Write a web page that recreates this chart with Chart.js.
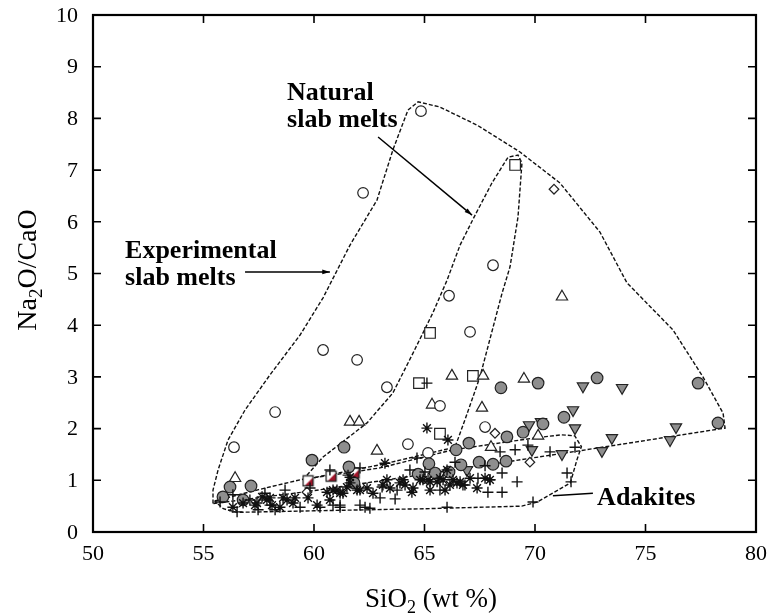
<!DOCTYPE html>
<html>
<head>
<meta charset="utf-8">
<script src="https://cdn.jsdelivr.net/npm/chart.js@4.4.1/dist/chart.umd.min.js"></script>
<style>
  html, body { margin: 0; padding: 0; background: #fff; }
  canvas { display: block; }
</style>
</head>
<body>
<canvas id="chart" width="772" height="614"></canvas>
<script>
// Axis ticks
const xTicks = [50, 55, 60, 65, 70, 75, 80];
const yTicks = [0, 1, 2, 3, 4, 5, 6, 7, 8, 9, 10];

// Samples: [SiO2 wt %, Na2O/CaO]
const openCircles = [[64.84,8.14],[62.22,6.56],[60.41,3.52],[61.95,3.33],[63.30,2.80],[58.24,2.32],[56.38,1.64],
  [66.11,4.57],[68.10,5.16],[67.06,3.87],[65.70,2.44],[64.25,1.70],[65.16,1.53],[67.74,2.03]];
const grayCircles = [[68.46,2.79],[70.14,2.88],[72.81,2.98],[77.38,2.88],[78.28,2.11],[71.31,2.22],[70.36,2.09],
  [69.46,1.93],[68.73,1.84],[67.01,1.72],[66.65,1.30],[66.11,1.16],[67.47,1.35],[68.10,1.31],[68.69,1.37],
  [66.43,1.59],[65.20,1.32],[64.71,1.12],[65.48,1.14],[61.36,1.64],[59.91,1.39],[61.58,1.26],[61.81,0.95],
  [56.20,0.87],[57.15,0.89],[55.88,0.68],[56.79,0.62]];
const openTriangles = [[71.22,4.55],[66.24,3.02],[67.65,3.02],[69.50,2.96],[67.60,2.40],[68.01,1.64],[70.14,1.86],
  [65.34,2.46],[61.63,2.13],[62.04,2.13],[62.85,1.57],[56.43,1.04]];
const grayDownTriangles = [[72.17,2.82],[73.94,2.79],[71.72,2.36],[71.81,2.01],[69.73,2.07],[70.27,2.13],[73.48,1.82],
  [76.38,2.03],[76.11,1.78],[73.03,1.57],[71.22,1.51],[69.86,1.59],[66.92,1.20]];
const openSquares = [[69.10,7.10],[65.25,3.85],[64.75,2.88],[67.19,3.02],[65.70,1.90]];
const halfRedSquares = [[59.73,0.99],[60.77,1.08],[61.81,1.14]];
const openDiamonds = [[70.86,6.63],[68.19,1.91],[69.77,1.35],[59.68,0.77]];
const asterisks = [[56.33,0.48],[57.33,0.52],[58.01,0.66],[58.60,0.66],[59.14,0.66],[58.46,0.48],[57.65,0.68],
  [56.79,0.56],[61.04,0.81],[61.49,0.87],[62.08,0.81],[62.40,0.85],[62.67,0.75],[63.44,0.85],[64.12,0.91],
  [64.43,0.77],[64.80,1.01],[65.25,0.97],[65.70,1.04],[66.02,1.20],[66.06,1.78],[65.11,2.01],[63.21,1.33],
  [66.29,1.01],[66.61,0.97],[67.06,1.04],[61.63,1.06],[60.14,0.52],[60.72,0.62],[59.73,0.66],
  [63.12,0.91],[63.30,1.01],[63.89,0.95],[64.03,1.01],[64.48,0.85],[64.93,1.01],[65.25,0.81],[65.57,0.97],
  [65.93,0.81],[66.47,0.95],[66.74,0.91],[67.38,0.85],[67.74,1.04],[67.96,1.01],[60.59,0.77],[61.18,0.75],
  [65.16,1.01],[65.84,1.01],[66.15,0.91],[57.42,0.56],[57.87,0.62],[58.10,0.52],[58.78,0.62],[59.05,0.56],
  [60.86,0.81],[61.31,0.75],[61.63,0.95],[61.95,0.81]];
const pluses = [[55.75,0.58],[56.52,0.39],[57.47,0.43],[58.24,0.43],[59.37,0.48],[60.27,0.48],[61.18,0.52],
  [62.31,0.48],[62.99,0.66],[63.67,0.64],[63.76,0.81],[63.08,0.87],[66.02,0.48],[65.11,2.88],[71.45,1.14],
  [71.63,0.97],[69.91,0.58],[70.68,1.55],[71.81,1.64],[69.19,0.97],[68.51,0.77],[67.87,0.77],[68.51,1.14],
  [67.96,1.01],[69.68,1.68],[68.42,1.55],[69.10,1.59],[67.42,1.04],[66.83,0.91],[65.70,0.81],[65.02,1.16],
  [64.34,1.20],[62.08,1.24],[61.54,1.10],[60.72,1.20],[58.69,0.81],[57.78,0.75],[57.10,0.62],[59.82,0.85],
  [58.01,0.52],[56.33,0.72],[67.74,1.28],[66.38,1.35],[64.66,1.43],[60.86,0.52],[61.18,0.48],[62.08,0.52],
  [62.53,0.46]];

// Field outlines
const experimentalField = [[55.43,0.55],[55.43,0.81],[55.66,1.20],[56.11,1.78],[56.88,2.36],[58.01,3.04],[59.37,3.81],
  [60.41,4.53],[61.63,5.55],[62.85,6.42],[63.57,7.39],[64.25,8.16],[64.71,8.32],[65.70,8.22],[67.38,7.87],
  [69.32,7.35],[71.13,6.75],[72.94,5.80],[74.16,4.82],[76.24,3.91],[77.60,3.00],[78.51,2.30],[78.60,2.01],
  [72.00,1.57],[65.70,1.16],[60.00,0.80],[55.43,0.55]];
const naturalField = [[59.50,1.01],[60.41,1.45],[62.40,2.11],[63.57,2.69],[64.48,3.46],[65.38,4.24],[66.02,4.87],
  [66.61,5.55],[67.29,6.13],[68.05,6.75],[68.78,7.25],[69.23,7.29],[69.41,7.14],[69.23,6.09],[68.87,5.13],
  [68.51,4.62],[67.51,3.00],[66.83,2.17],[66.38,1.64],[63.00,1.30],[59.50,1.01]];
const adakiteField = [[55.50,0.60],[57.50,0.82],[59.37,1.01],[62.99,1.24],[66.29,1.59],[70.00,1.82],[71.20,1.88],
  [71.80,1.86],[72.10,1.65],[71.90,1.40],[71.60,0.95],[70.80,0.75],[70.10,0.58],[69.40,0.50],[65.00,0.45],
  [60.00,0.41],[56.50,0.38],[55.90,0.45],[55.50,0.60]];

// Annotation text and leader lines
const fieldLabels = [
  { lines: ['Natural', 'slab melts'], at: [58.78, 8.36] },
  { lines: ['Experimental', 'slab melts'], at: [51.45, 5.30] },
  { lines: ['Adakites'], at: [72.81, 0.52] }
];
const leaders = [
  { from: [62.90, 7.64], to: [67.15, 6.13], head: true },
  { from: [56.88, 5.03], to: [60.72, 5.03], head: true },
  { from: [72.62, 0.75], to: [70.81, 0.70], head: false }
];

const SERIF = "'Liberation Serif', 'Times New Roman', serif";
const pts = a => a.map(([x, y]) => ({ x, y }));

function halfSquareImage() {
  const c = document.createElement('canvas');
  c.width = 13; c.height = 13;
  const g = c.getContext('2d');
  g.fillStyle = '#fff';
  g.fillRect(1, 1, 11, 11);
  g.fillStyle = '#a3142a';
  g.beginPath(); g.moveTo(11.5, 3); g.lineTo(11.5, 11.5); g.lineTo(3, 11.5); g.closePath(); g.fill();
  g.strokeStyle = '#222'; g.lineWidth = 1.3;
  g.strokeRect(1.5, 1.5, 10, 10);
  return c;
}

function outline(data) {
  return {
    type: 'line', data: pts(data), showLine: true, fill: false, tension: 0,
    borderColor: '#111', borderWidth: 1.4, borderDash: [4, 2], pointRadius: 0, order: 10
  };
}
function marker(data, style, radius, bg, extra) {
  return Object.assign({
    type: 'scatter', data: pts(data), pointStyle: style, pointRadius: radius,
    backgroundColor: bg, borderColor: '#222', pointBorderWidth: 1.2, order: 1
  }, extra || {});
}

// Frame, inward tick marks, tick labels, axis titles, field labels
const decorations = {
  id: 'decorations',
  afterDatasetsDraw(chart) {
    const { ctx, chartArea: a, scales: { x, y } } = chart;
    ctx.save();
    ctx.strokeStyle = '#000';
    ctx.lineWidth = 1.6;
    const L = 8;
    ctx.beginPath();
    xTicks.slice(1, -1).forEach(v => {
      const px = x.getPixelForValue(v);
      ctx.moveTo(px, a.bottom); ctx.lineTo(px, a.bottom - L);
      ctx.moveTo(px, a.top); ctx.lineTo(px, a.top + L);
    });
    yTicks.slice(1, -1).forEach(v => {
      const py = y.getPixelForValue(v);
      ctx.moveTo(a.left, py); ctx.lineTo(a.left + L, py);
      ctx.moveTo(a.right, py); ctx.lineTo(a.right - L, py);
    });
    ctx.stroke();
    ctx.lineWidth = 2.2;
    ctx.strokeRect(a.left, a.top, a.right - a.left, a.bottom - a.top);

    // tick labels
    ctx.fillStyle = '#000';
    ctx.font = '22px ' + SERIF;
    ctx.textBaseline = 'middle';
    ctx.textAlign = 'center';
    xTicks.forEach(v => ctx.fillText(String(v), x.getPixelForValue(v), a.bottom + 22));
    ctx.textAlign = 'right';
    yTicks.forEach(v => ctx.fillText(String(v), a.left - 15, y.getPixelForValue(v) + 1));

    // leader lines
    ctx.lineWidth = 1.5;
    leaders.forEach(l => {
      const x1 = x.getPixelForValue(l.from[0]), y1 = y.getPixelForValue(l.from[1]);
      const x2 = x.getPixelForValue(l.to[0]), y2 = y.getPixelForValue(l.to[1]);
      ctx.beginPath(); ctx.moveTo(x1, y1); ctx.lineTo(x2, y2); ctx.stroke();
      if (l.head) {
        const ang = Math.atan2(y2 - y1, x2 - x1), h = 8;
        ctx.beginPath();
        ctx.moveTo(x2, y2);
        ctx.lineTo(x2 - h * Math.cos(ang - 0.3), y2 - h * Math.sin(ang - 0.3));
        ctx.lineTo(x2 - h * Math.cos(ang + 0.3), y2 - h * Math.sin(ang + 0.3));
        ctx.closePath(); ctx.fill();
      }
    });

    // field labels
    ctx.font = 'bold 26px ' + SERIF;
    ctx.textBaseline = 'alphabetic';
    ctx.textAlign = 'left';
    fieldLabels.forEach(f => {
      const px = x.getPixelForValue(f.at[0]), py = y.getPixelForValue(f.at[1]);
      f.lines.forEach((t, i) => ctx.fillText(t, px, py + i * 27));
    });

    // axis titles with subscripts
    const drawParts = (parts, cx, cy, size) => {
      const big = size + 'px ' + SERIF, small = Math.round(size * 0.68) + 'px ' + SERIF;
      let w = 0;
      parts.forEach(p => { ctx.font = p.sub ? small : big; w += ctx.measureText(p.t).width; });
      let cur = cx - w / 2;
      ctx.textAlign = 'left';
      ctx.textBaseline = 'alphabetic';
      parts.forEach(p => {
        ctx.font = p.sub ? small : big;
        ctx.fillText(p.t, cur, cy + (p.sub ? size * 0.22 : 0));
        cur += ctx.measureText(p.t).width;
      });
    };
    drawParts([{ t: 'SiO' }, { t: '2', sub: true }, { t: ' (wt %)' }], 431, 607, 27);
    ctx.save();
    ctx.translate(36, 270);
    ctx.rotate(-Math.PI / 2);
    drawParts([{ t: 'Na' }, { t: '2', sub: true }, { t: 'O/CaO' }], 0, 0, 28);
    ctx.restore();
    ctx.restore();
  }
};

new Chart(document.getElementById('chart'), {
  type: 'scatter',
  data: {
    datasets: [
      outline(experimentalField),
      outline(naturalField),
      outline(adakiteField),
      marker(pluses, 'cross', 5.5, 'transparent', { borderColor: '#111', pointBorderWidth: 1.4 }),
      marker(asterisks, 'star', 5.5, 'transparent', { borderColor: '#111', pointBorderWidth: 1.4 }),
      marker(grayCircles, 'circle', 5.8, '#8e8e8e'),
      marker(grayDownTriangles, 'triangle', 6.5, '#8e8e8e', { rotation: 180 }),
      marker(openCircles, 'circle', 5.3, '#fff'),
      marker(openTriangles, 'triangle', 6.5, '#fff'),
      marker(openSquares, 'rect', 7.5, '#fff'),
      marker(openDiamonds, 'rectRot', 4.8, '#fff'),
      marker(halfRedSquares, halfSquareImage(), 6, '#fff')
    ]
  },
  options: {
    responsive: false,
    animation: false,
    devicePixelRatio: 1,
    layout: { padding: { top: 15, right: 16, left: 0, bottom: 0 } },
    plugins: { legend: { display: false }, tooltip: { enabled: false } },
    scales: {
      x: {
        type: 'linear', min: 50, max: 80,
        ticks: { display: false },
        grid: { display: false, drawTicks: false },
        border: { display: false },
        afterFit: s => { s.height = 82; }
      },
      y: {
        type: 'linear', min: 0, max: 10,
        ticks: { display: false },
        grid: { display: false, drawTicks: false },
        border: { display: false },
        afterFit: s => { s.width = 93; }
      }
    }
  },
  plugins: [decorations]
});
</script>
</body>
</html>
